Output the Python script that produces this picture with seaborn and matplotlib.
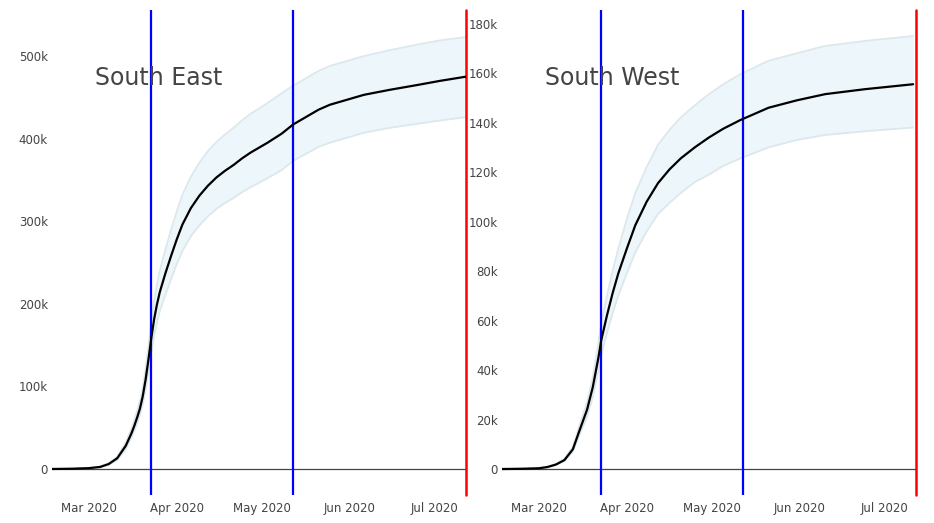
import numpy as np
import pandas as pd
import matplotlib
matplotlib.use("Agg")
import matplotlib.pyplot as plt
import matplotlib.dates as mdates
from matplotlib.ticker import FuncFormatter
import seaborn as sns

# South East: dates, projected cumulative cases and band (thousands)
se_dates = ["2020-02-17", "2020-02-24", "2020-03-01", "2020-03-05", "2020-03-08",
            "2020-03-11", "2020-03-14", "2020-03-16", "2020-03-17", "2020-03-18",
            "2020-03-19", "2020-03-20", "2020-03-21", "2020-03-22", "2020-03-23",
            "2020-03-24", "2020-03-25", "2020-03-26", "2020-03-28", "2020-03-30",
            "2020-04-01", "2020-04-03", "2020-04-06", "2020-04-09", "2020-04-12",
            "2020-04-15", "2020-04-18", "2020-04-21", "2020-04-24", "2020-04-27",
            "2020-05-03", "2020-05-08", "2020-05-12", "2020-05-21", "2020-05-25",
            "2020-06-06", "2020-06-15", "2020-06-25", "2020-07-03", "2020-07-12"]
se_mean = [0, 0.3, 1, 2.5, 6,
           13, 28, 43, 52, 62,
           73, 88, 108, 132, 158,
           181, 199, 214, 237, 258,
           278, 296, 316, 331, 343,
           353, 361, 368, 376, 383,
           395, 406, 417, 435, 441,
           453, 459, 465, 470, 475]
se_upper = [0, 0.4, 1.2, 3, 7,
            15, 32, 49, 59, 70,
            82, 99, 121, 148, 177,
            203, 223, 240, 266, 290,
            312, 332, 354, 371, 385,
            396, 405, 413, 422, 430,
            443, 455, 464, 482, 488,
            500, 507, 514, 519, 523]
se_lower = [0, 0.2, 0.8, 2, 5,
            11, 24, 38, 46, 55,
            65, 78, 96, 117, 140,
            161, 177, 191, 211, 230,
            248, 264, 282, 295, 306,
            315, 322, 328, 335, 341,
            352, 362, 373, 390, 395,
            407, 413, 418, 422, 426]

# South West
sw_dates = ["2020-02-17", "2020-02-24", "2020-03-01", "2020-03-04", "2020-03-07",
            "2020-03-10", "2020-03-13", "2020-03-15", "2020-03-18", "2020-03-20",
            "2020-03-22", "2020-03-23", "2020-03-25", "2020-03-27", "2020-03-29",
            "2020-04-01", "2020-04-04", "2020-04-08", "2020-04-12", "2020-04-16",
            "2020-04-20", "2020-04-25", "2020-04-30", "2020-05-05", "2020-05-11",
            "2020-05-21", "2020-05-31", "2020-06-10", "2020-06-24", "2020-07-11"]
sw_mean = [0, 0.1, 0.3, 0.8, 1.8,
           3.6, 8, 14.5, 24, 33,
           45, 52, 62, 71, 79,
           89, 98.5, 108, 115.5, 121,
           125.5, 130, 134, 137.5, 141,
           146, 149, 151.5, 153.5, 155.5]
sw_upper = [0, 0.1, 0.35, 0.9, 2.1,
            4.1, 9, 16.5, 27, 37,
            51, 59, 70, 80, 89,
            101, 111.5, 122, 131, 137,
            142, 147, 151.5, 155.5, 159.5,
            165, 168, 171, 173, 175]
sw_lower = [0, 0.1, 0.25, 0.7, 1.6,
            3.2, 7, 12.9, 21, 29,
            40, 46, 55, 63, 70,
            79, 87.5, 96, 103, 107.5,
            111.5, 116, 119, 122.5, 125.5,
            130, 133, 135, 136.5, 138]

regions = ["South East", "South West"]
blue_events = ["2020-03-23", "2020-05-12"]
red_event = "2020-07-12"
x_start, x_end = "2020-02-17", "2020-07-12"

sns.set_theme(style="white")
plt.rcParams["font.family"] = ["DejaVu Sans"]

fig = plt.figure(figsize=(9.34, 5.23), dpi=100)
W, H = 934, 523
ax_se = fig.add_axes([52 / W, 28 / H, 414 / W, 485 / H])
ax_sw = fig.add_axes([502 / W, 28 / H, 414 / W, 485 / H])

panels = [
    (ax_se, se_dates, se_mean, se_upper, se_lower, (-31.5e3, 555.7e3), np.arange(0, 500001, 100000)),
    (ax_sw, sw_dates, sw_mean, sw_upper, sw_lower, (-10.5e3, 185.5e3), np.arange(0, 180001, 20000)),
]

kfmt = FuncFormatter(lambda v, p: "0" if v == 0 else f"{int(round(v / 1000))}k")

for (ax, dates, mean, upper, lower, ylim, yticks), name in zip(panels, regions):
    df = pd.DataFrame({
        "date": pd.to_datetime(dates),
        "mean": np.array(mean) * 1000,
        "upper": np.array(upper) * 1000,
        "lower": np.array(lower) * 1000,
    })
    ax.fill_between(df["date"], df["lower"], df["upper"], color="#edf6fa", lw=0, zorder=1)
    ax.plot(df["date"], df["upper"], color="#dde8ed", lw=1.3, zorder=2)
    ax.plot(df["date"], df["lower"], color="#dde8ed", lw=1.3, zorder=2)
    ax.axhline(0, color="#444444", lw=0.9, zorder=2)
    sns.lineplot(data=df, x="date", y="mean", color="black", lw=1.6, ax=ax, zorder=4)

    for d in blue_events:
        ax.axvline(pd.Timestamp(d), color="#0000ff", lw=1.6, zorder=3)
    ax.axvline(pd.Timestamp(red_event), color="#ff0000", lw=1.8, zorder=3, clip_on=False)

    ax.set_xlim(pd.Timestamp(x_start), pd.Timestamp(x_end))
    ax.set_ylim(*ylim)
    ax.set_yticks(yticks)
    ax.yaxis.set_major_formatter(kfmt)
    ax.xaxis.set_major_locator(mdates.MonthLocator(bymonth=[3, 4, 5, 6, 7]))
    ax.xaxis.set_major_formatter(mdates.DateFormatter("%b %Y"))
    ax.tick_params(axis="both", length=0, labelsize=8.5, colors="#444444", pad=3)
    ax.tick_params(axis="x", pad=5)
    ax.set_xlabel("")
    ax.set_ylabel("")
    for s in ax.spines.values():
        s.set_visible(False)
    ax.patch.set_alpha(0)

    ax.text(0.104, 0.86, name, transform=ax.transAxes, fontsize=17,
            color="#444444", va="center", ha="left", zorder=5)

fig.savefig("out.png", dpi=100)
